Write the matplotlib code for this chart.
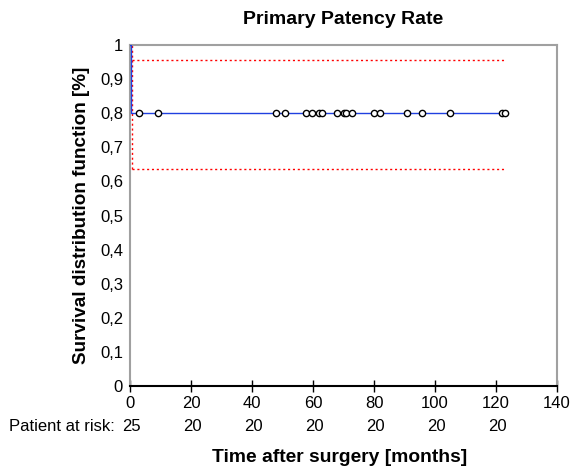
import matplotlib
matplotlib.use("Agg")
import matplotlib.pyplot as plt
import matplotlib.ticker as mticker
import matplotlib.transforms as mtransforms

plt.rcParams["font.family"] = ["Liberation Sans", "DejaVu Sans"]

# Kaplan-Meier step (months, survival)
km_time = [0, 0.3, 0.3, 123]
km_surv = [1.0, 1.0, 0.8, 0.8]
# 95% confidence band
ci_time = [0.5, 123]
ci_upper = [0.955, 0.955]
ci_lower = [0.635, 0.635]
# censored observations (months)
censored = [2.9, 9.2, 47.9, 50.8, 57.7, 59.7, 62.0, 63.0, 67.9, 70.2,
            70.8, 72.8, 80.0, 82.0, 90.8, 95.7, 104.9, 122.0, 123.0]
# patients at risk
risk_time = [0, 20, 40, 60, 80, 100, 120]
risk_n = [25, 20, 20, 20, 20, 20, 20]

fig = plt.figure(figsize=(5.71, 4.66), dpi=100)
ax = fig.add_axes([0.2277, 0.1717, 0.7478, 0.7317])

dotted = (0, (1.5, 2))
ax.plot(km_time, km_surv, color="#2040e0", linewidth=1.0, zorder=3)
ax.plot(ci_time, ci_upper, color="red", linestyle=dotted, linewidth=1.0)
ax.plot(ci_time, ci_lower, color="red", linestyle=dotted, linewidth=1.0)
ax.plot([ci_time[0], ci_time[0]], [ci_lower[0], 1.0], color="red", linestyle=dotted, linewidth=1.0)
ax.plot(censored, [0.8] * len(censored), linestyle="none", marker="o",
        markersize=4.5, markerfacecolor="white", markeredgecolor="black",
        markeredgewidth=1.0, zorder=4)

ax.set_xlim(0, 140)
ax.set_ylim(0, 1)
ax.set_xticks(range(0, 141, 20))
ax.set_yticks([i / 10 for i in range(11)])
ax.yaxis.set_major_formatter(mticker.FuncFormatter(
    lambda v, _: f"{v:.1f}".replace(".", ",") if 0 < v < 1 else f"{v:.0f}"))

for side in ("top", "right", "left"):
    ax.spines[side].set_color("#a0a0a0")
    ax.spines[side].set_linewidth(1.5)
ax.spines["bottom"].set_color("black")
ax.spines["bottom"].set_linewidth(1.5)
ax.tick_params(axis="x", direction="inout", length=8, width=1.0, labelsize=12, pad=3)
ax.tick_params(axis="y", length=0, labelsize=12, pad=5)

ax.set_title("Primary Patency Rate", fontsize=14, fontweight="bold", pad=15)
ax.set_ylabel("Survival distribution function [%]", fontsize=13.6, fontweight="bold", labelpad=7)

# patients at risk row (x in data units, y in figure fraction)
risk_tr = mtransforms.blended_transform_factory(ax.transData, fig.transFigure)
for t, n in zip(risk_time, risk_n):
    ax.text(t + 0.6, 0.0837, str(n), transform=risk_tr, ha="center", va="center",
            fontsize=12, clip_on=False)
fig.text(0.016, 0.0837, "Patient at risk:", ha="left", va="center", fontsize=12)

fig.text(0.594, 0.018, "Time after surgery [months]", ha="center", va="center",
         fontsize=13.9, fontweight="bold")

fig.savefig("out.png", dpi=100)
